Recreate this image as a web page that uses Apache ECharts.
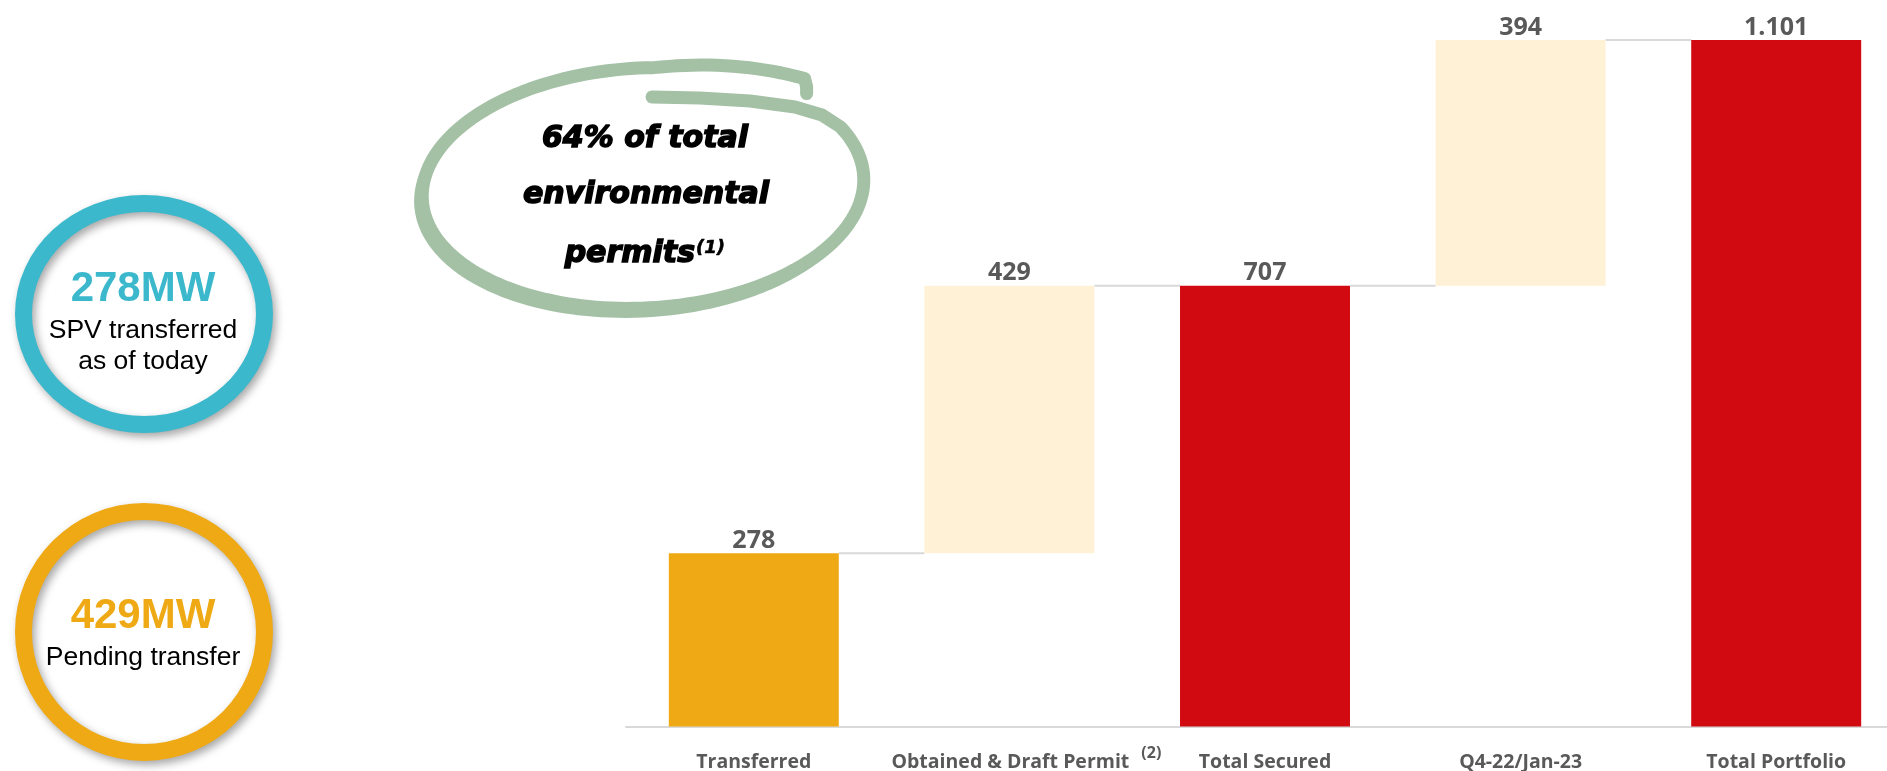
<!DOCTYPE html>
<html>
<head>
<meta charset="utf-8">
<script src="https://cdn.jsdelivr.net/npm/echarts@6/dist/echarts.min.js"></script>
<style>
html,body{margin:0;padding:0;background:#fff;}
#chart{width:1887px;height:771px;}
</style>
</head>
<body>
<div id="chart"></div>
<script>
// ---- data ----
const categories = ['Transferred', 'Obtained & Draft Permit', 'Total Secured', 'Q4-22/Jan-23', 'Total Portfolio'];
const barValues = [278, 429, 707, 394, 1101];
const barBases = [0, 278, 0, 707, 0];
const valueLabels = ['278', '429', '707', '394', '1.101'];
const barColors = ['#EEA915', '#FEF1D5', '#D10A11', '#FEF1D5', '#D10A11'];
const footnoteCategory = 1;

// connectors: from top of bar i to next bar
const connectorData = [];
for (let i = 0; i < barValues.length - 1; i++) {
  connectorData.push([i, barBases[i] + barValues[i]]);
}

const BAR_RATIO = 0.665;

// ---- hand-drawn ellipse decoration ----
const ECX = 643, ECY = 188, ERX = 221, ERY = 120, EROT = 3;
function ePoint(a, f) {
  const phi = EROT * Math.PI / 180;
  const r = a * Math.PI / 180;
  const dx = ERX * f * Math.cos(r);
  const dy = ERY * f * Math.sin(r);
  return [ECX + dx * Math.cos(phi) + dy * Math.sin(phi), ECY - dx * Math.sin(phi) + dy * Math.cos(phi)];
}
function ellipseRun(a0, a1, fFn, n) {
  const pts = [];
  for (let k = 0; k <= n; k++) {
    const a = a0 + (a1 - a0) * k / n;
    pts.push(ePoint(a, fFn(a)));
  }
  return pts;
}
const loopPts = [[652, 97], [700, 98], [750, 101], [795, 107], [822, 115]].concat(
  ellipseRun(-25, 312, function (a) { return a < 275 ? 1.0 : 1.0 + 0.13 * (a - 275) / 37; }, 170)
);
const lastPt = loopPts[loopPts.length - 1];
loopPts.push([lastPt[0] + 2, lastPt[1] + 8], [lastPt[0] + 2, lastPt[1] + 15]);
const bottomPts = ellipseRun(30, 200, function (a) { return 1 + 0.04 * Math.sin(Math.PI * (a - 30) / 170); }, 80);
const GREEN = '#A4C1A6';

const chart = echarts.init(document.getElementById('chart'), null, {renderer: 'canvas'});

const labelFont = '"Open Sans", "Noto Sans", sans-serif';
const italicFont = 'italic bold 30px "DejaVu Sans", sans-serif';

const option = {
  backgroundColor: '#ffffff',
  animation: false,
  grid: {left: 626, width: 1278, top: 9.5, bottom: 44.5, containLabel: false, outerBoundsMode: 'none'},
  xAxis: {
    type: 'category',
    data: categories,
    axisLine: {show: true, lineStyle: {color: '#D9D9D9', width: 2}},
    axisTick: {show: false},
    axisLabel: {
      margin: 18.5,
      interval: 0,
      formatter: function (v, idx) {
        if (idx === footnoteCategory) return '{pad|}{b|' + v + '}{sp|}{s|(2)}';
        return '{b|' + v + '}';
      },
      rich: {
        b: {fontFamily: labelFont, fontWeight: 'bold', fontSize: 19.5, color: '#595959', lineHeight: 34},
        s: {fontFamily: labelFont, fontWeight: 'bold', fontSize: 16, color: '#595959', lineHeight: 16, padding: [0, 0, 17, 0]},
        sp: {width: 12},
        pad: {width: 34}
      }
    }
  },
  yAxis: {type: 'value', min: 0, max: 1150, show: false, splitLine: {show: false}},
  series: [
    {
      name: 'base', type: 'bar', stack: 'w', barWidth: (BAR_RATIO * 100) + '%',
      itemStyle: {color: 'rgba(0,0,0,0)'},
      emphasis: {disabled: true},
      data: barBases
    },
    {
      name: 'value', type: 'bar', stack: 'w', barWidth: (BAR_RATIO * 100) + '%',
      data: barValues.map((v, i) => ({value: v, itemStyle: {color: barColors[i]}})),
      label: {
        show: true, position: 'top', distance: 0,
        fontFamily: labelFont, fontWeight: 'bold', fontSize: 25, color: '#595959',
        formatter: p => valueLabels[p.dataIndex]
      }
    },
    {
      name: 'connector', type: 'custom', z: 1,
      data: connectorData,
      renderItem: function (params, api) {
        const i = api.value(0);
        const lvl = api.value(1);
        const p1 = api.coord([i, lvl]);
        const p2 = api.coord([i + 1, lvl]);
        const bw = api.size([1, 0])[0] * BAR_RATIO;
        return {
          type: 'line',
          shape: {x1: p1[0] + bw / 2, y1: p1[1], x2: p2[0] - bw / 2, y2: p1[1]},
          style: {stroke: '#D9D9D9', lineWidth: 2}
        };
      }
    }
  ],
  graphic: [
    // cyan ring
    {type: 'ellipse', shape: {cx: 144, cy: 314, rx: 120.5, ry: 110.5},
     style: {fill: null, stroke: '#3BB8CC', lineWidth: 17, shadowBlur: 8, shadowColor: 'rgba(0,0,0,0.35)', shadowOffsetX: 3, shadowOffsetY: 4}},
    {type: 'text', style: {text: '278MW', x: 143, y: 289, align: 'center', verticalAlign: 'middle', fill: '#3BB8CC', font: 'bold 42px "Liberation Sans", Arial, sans-serif'}},
    {type: 'text', style: {text: 'SPV transferred', x: 143, y: 331, align: 'center', verticalAlign: 'middle', fill: '#000000', font: '26.5px "Liberation Sans", Arial, sans-serif'}},
    {type: 'text', style: {text: 'as of today', x: 143, y: 362, align: 'center', verticalAlign: 'middle', fill: '#000000', font: '26.5px "Liberation Sans", Arial, sans-serif'}},
    // orange ring
    {type: 'ellipse', shape: {cx: 144, cy: 632, rx: 120.5, ry: 120.5},
     style: {fill: null, stroke: '#EEA915', lineWidth: 17, shadowBlur: 8, shadowColor: 'rgba(0,0,0,0.35)', shadowOffsetX: 3, shadowOffsetY: 4}},
    {type: 'text', style: {text: '429MW', x: 143, y: 616, align: 'center', verticalAlign: 'middle', fill: '#EEA915', font: 'bold 42px "Liberation Sans", Arial, sans-serif'}},
    {type: 'text', style: {text: 'Pending transfer', x: 143, y: 658, align: 'center', verticalAlign: 'middle', fill: '#000000', font: '26.5px "Liberation Sans", Arial, sans-serif'}},
    // hand-drawn green ellipse
    {type: 'polyline', shape: {points: loopPts}, style: {stroke: GREEN, lineWidth: 13, fill: null, lineCap: 'round', lineJoin: 'round'}},
    {type: 'polyline', shape: {points: bottomPts}, style: {stroke: GREEN, lineWidth: 10, fill: null, lineCap: 'round', lineJoin: 'round'}},
    {type: 'text', style: {text: '64% of total', x: 645, y: 139, align: 'center', verticalAlign: 'middle', fill: '#000', stroke: '#000', lineWidth: 1.5, font: italicFont}},
    {type: 'text', style: {text: 'environmental', x: 646, y: 195, align: 'center', verticalAlign: 'middle', fill: '#000', stroke: '#000', lineWidth: 1.5, font: italicFont}},
    {type: 'text', style: {text: 'permits', x: 695, y: 254, align: 'right', verticalAlign: 'middle', fill: '#000', stroke: '#000', lineWidth: 1.5, font: italicFont}},
    {type: 'text', style: {text: '(1)', x: 696, y: 248, align: 'left', verticalAlign: 'middle', fill: '#000', stroke: '#000', lineWidth: 0.6, font: 'italic bold 18px "DejaVu Sans", sans-serif'}}
  ]
};
chart.setOption(option);
</script>
</body>
</html>
